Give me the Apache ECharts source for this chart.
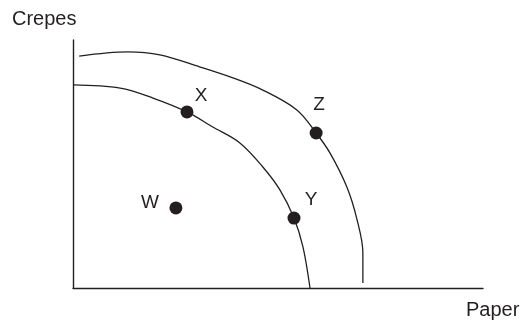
<!DOCTYPE html>
<html>
<head>
<meta charset="utf-8">
<script src="https://cdn.jsdelivr.net/npm/echarts@6/dist/echarts.min.js"></script>
<style>
html, body { margin: 0; padding: 0; background: #fff; }
#main { width: 530px; height: 323px; }
</style>
</head>
<body>
<div id="main"></div>
<script>
// frontier before growth (x = paper, y = crepes)
var innerPaper   = [0, 11.5, 19.5, 27.8, 34.1, 40.7, 46.3, 50.5, 53.9, 56.1, 57.8];
var innerCrepes  = [81.9, 80.6, 76.6, 71.0, 64.9, 58.5, 48.8, 39.5, 28.2, 16.5, 0];
// frontier after growth
var outerPaper   = [1.5, 13.4, 21.2, 31.0, 39.0, 46.3, 54.6, 59.3, 62.7, 66.8, 69.3, 70.7, 70.7];
var outerCrepes  = [93.5, 95.2, 94.0, 89.1, 84.7, 79.8, 71.8, 62.5, 54.4, 40.7, 27.4, 14.1, 2.0];
// labelled points
var pointNames   = ['W', 'X', 'Y', 'Z'];
var pointPaper   = [25.1, 27.8, 53.9, 59.3];
var pointCrepes  = [32.3, 71.0, 28.2, 62.5];

var ink = '#231f20';
var font = 'Liberation Sans';

var zip = function(a, b){
	var out = [];
	for (var i = 0; i < a.length; i++) out.push([a[i], b[i]]);
	return out;
};

// where each letter sits next to its dot
var labelOffset = { W: [-26, -5], X: [14, -16], Y: [17, -18], Z: [3, -28] };

var points = [];
for (var i = 0; i < pointNames.length; i++) {
	points.push({
		name: pointNames[i],
		value: [pointPaper[i], pointCrepes[i]],
		label: { offset: labelOffset[pointNames[i]] }
	});
}

var curve = function(data){
	return {
		type: 'line',
		data: data,
		smooth: 0.35,
		showSymbol: false,
		silent: true,
		lineStyle: { color: ink, width: 1.3 },
		z: 2
	};
};

var axisBase = {
	type: 'value',
	min: 0,
	max: 100,
	axisLine: { show: true, lineStyle: { color: ink, width: 1.4 } },
	axisTick: { show: false },
	axisLabel: { show: false },
	splitLine: { show: false }
};

var myChart = echarts.init(document.getElementById('main'));
myChart.setOption({
	animation: false,
	backgroundColor: '#ffffff',
	grid: { left: 73, right: 47, top: 40, bottom: 35 },
	xAxis: axisBase,
	yAxis: axisBase,
	graphic: [
		{ type: 'text', left: 12, top: 9,
		  style: { text: 'Crepes', font: '20px "' + font + '"', fill: ink } },
		{ type: 'text', left: 466, top: 300,
		  style: { text: 'Paper', font: '20px "' + font + '"', fill: ink } }
	],
	series: [
		curve(zip(innerPaper, innerCrepes)),
		curve(zip(outerPaper, outerCrepes)),
		{
			type: 'scatter',
			data: points,
			symbolSize: 13,
			itemStyle: { color: ink, opacity: 1 },
			z: 3,
			label: {
				show: true,
				position: 'inside',
				formatter: '{b}',
				color: ink,
				fontFamily: font,
				fontSize: 19
			}
		}
	]
});
</script>
</body>
</html>
